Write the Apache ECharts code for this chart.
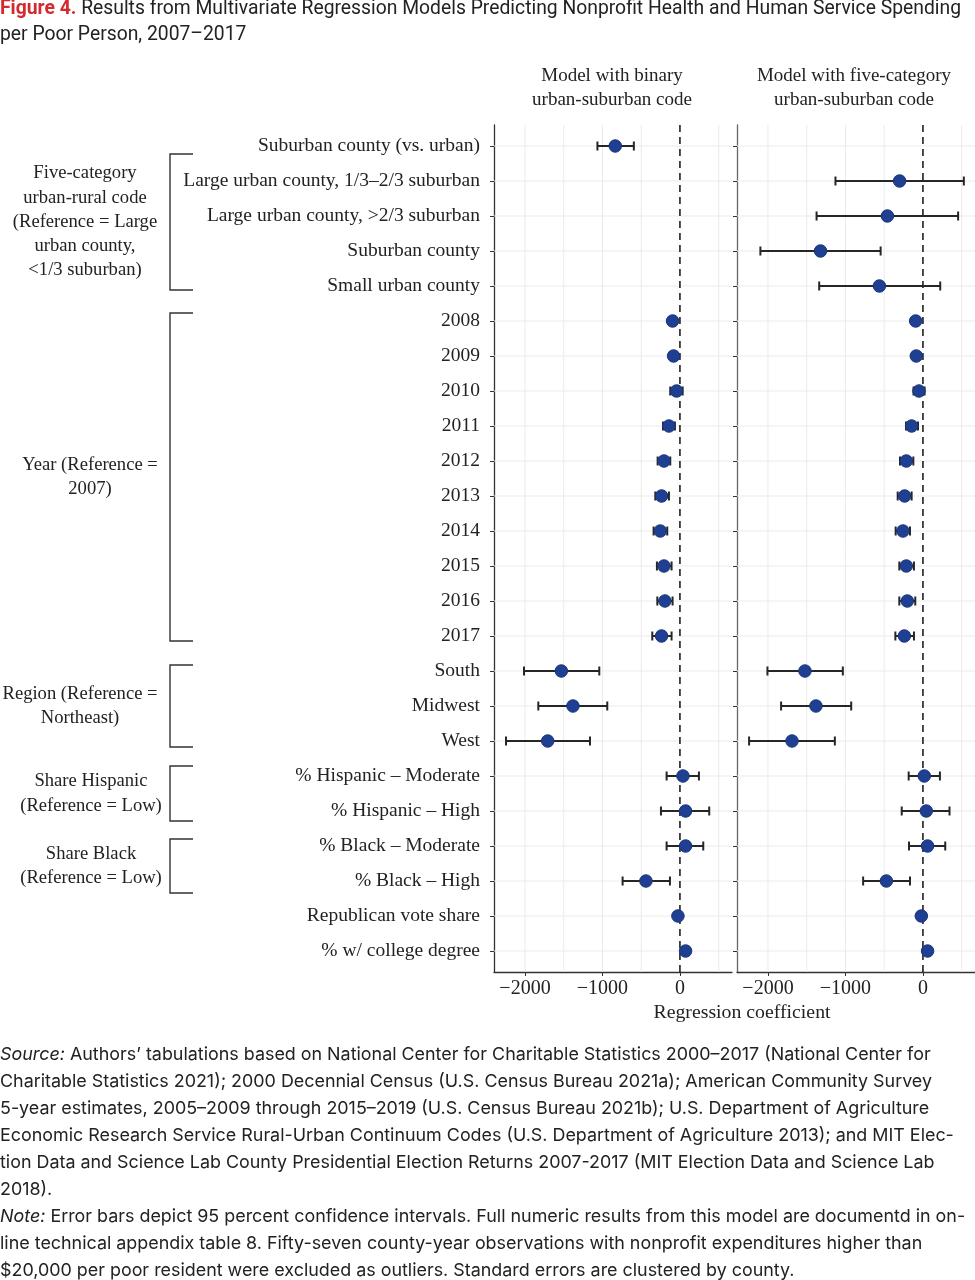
<!DOCTYPE html>
<html>
<head>
<meta charset="utf-8">
<script src="https://cdn.jsdelivr.net/npm/echarts@6.0.0/dist/echarts.min.js"></script>
<style>
html,body{margin:0;padding:0;background:#fff;}
#chart{width:975px;height:1280px;}
</style>
</head>
<body>
<div id="chart"></div>
<script>
// ---------- data ----------
const rowLabels = [
  'Suburban county (vs. urban)',
  'Large urban county, 1/3\u20132/3 suburban',
  'Large urban county, >2/3 suburban',
  'Suburban county',
  'Small urban county',
  '2008','2009','2010','2011','2012','2013','2014','2015','2016','2017',
  'South','Midwest','West',
  '% Hispanic \u2013 Moderate','% Hispanic \u2013 High',
  '% Black \u2013 Moderate','% Black \u2013 High',
  'Republican vote share','% w/ college degree'
];
// Model with binary urban-suburban code
const binaryEst = [-835, null, null, null, null, -95, -82, -43, -142, -206, -237, -254, -206, -194, -237, -1531, -1381, -1707, 39, 73, 73, -439, -26, 73];
const binaryLo  = [-1065, null, null, null, null, null, null, -125, -219, -288, -318, -340, -297, -292, -357, -2013, -1828, -2245, -172, -245, -172, -740, null, null];
const binaryHi  = [-595, null, null, null, null, null, null, 35, -65, -125, -142, -164, -108, -95, -108, -1041, -938, -1161, 245, 378, 301, -129, null, null];
// Model with five-category urban-suburban code
const fiveEst = [null, -301, -459, -1322, -562, -94, -86, -51, -146, -215, -236, -258, -215, -202, -240, -1523, -1381, -1690, 17, 43, 60, -472, -21, 60];
const fiveLo  = [null, -1129, -1373, -2098, -1339, null, null, -121, -219, -296, -326, -352, -305, -305, -356, -2007, -1831, -2244, -184, -274, -180, -772, null, null];
const fiveHi  = [null, 528, 454, -546, 223, null, null, 21, -64, -124, -146, -167, -116, -99, -116, -1034, -926, -1137, 219, 343, 288, -167, null, null];

const xTickValues = [-2000, -1000, 0];
const xGridValues = [-2000, -1500, -1000, -500, 500];
const panelTitles = ['Model with binary\nurban-suburban code', 'Model with five-category\nurban-suburban code'];
const groups = [
  {label: 'Five-category\nurban-rural code\n(Reference = Large\nurban county,\n<1/3 suburban)', from: 1, to: 4},
  {label: 'Year (Reference =\n2007)', from: 5, to: 14},
  {label: 'Region (Reference =\nNortheast)', from: 15, to: 17},
  {label: 'Share Hispanic\n(Reference = Low)', from: 18, to: 19},
  {label: 'Share Black\n(Reference = Low)', from: 20, to: 21}
];

// ---------- styling ----------
const SERIF = '"Liberation Serif", "DejaVu Serif", serif';
const SANS = 'Inter, "Noto Sans", sans-serif';
const TITLE_FONT = 'Roboto, "Noto Sans", sans-serif';
const POINT = '#1f3f92';
const X_MIN = -2400, X_MAX = 672;
const rowIdx = rowLabels.map((_, i) => i);

function fmtX(v) { return v < 0 ? '\u2212' + Math.abs(v) : String(v); }
function pts(est) { return est.map((v, i) => v == null ? null : [v, i]).filter(d => d); }
function bars(lo, hi) { return lo.map((v, i) => (v == null || hi[i] == null) ? null : [v, hi[i], i]).filter(d => d); }

function errRender(params, api) {
  const a = api.coord([api.value(0), api.value(2)]);
  const b = api.coord([api.value(1), api.value(2)]);
  const h = 4.5;
  const st = {stroke: '#262626', lineWidth: 2};
  return {type: 'group', children: [
    {type: 'line', shape: {x1: a[0], y1: a[1], x2: b[0], y2: b[1]}, style: st},
    {type: 'line', shape: {x1: a[0], y1: a[1] - h, x2: a[0], y2: a[1] + h}, style: st},
    {type: 'line', shape: {x1: b[0], y1: b[1] - h, x2: b[0], y2: b[1] + h}, style: st}
  ]};
}
// gridlines drawn through the axes (vertical at xGridValues, horizontal at every row)
function gridRender(params, api) {
  const cs = params.coordSys;
  const ch = [];
  const st = {stroke: '#ebebeb', lineWidth: 1};
  xGridValues.forEach(v => {
    const p = api.coord([v, 0]);
    ch.push({type: 'line', shape: {x1: p[0], y1: cs.y, x2: p[0], y2: cs.y + cs.height}, style: st});
  });
  rowIdx.forEach(i => {
    const p = api.coord([0, i]);
    ch.push({type: 'line', shape: {x1: cs.x, y1: p[1], x2: cs.x + cs.width, y2: p[1]}, style: st});
  });
  const z = api.coord([0, 0]);
  ch.push({type: 'line', shape: {x1: z[0], y1: cs.y, x2: z[0], y2: cs.y + cs.height},
    style: {stroke: '#111', lineWidth: 1.5, lineDash: [7, 5]}, z2: 5});
  return {type: 'group', children: ch};
}

function xAxis(gi) {
  return {
    type: 'value', gridIndex: gi, min: X_MIN, max: X_MAX,
    splitLine: {show: false},
    axisLine: {show: true, onZero: false, lineStyle: {color: '#333', width: 1.3}},
    axisTick: {show: true, customValues: xTickValues, length: 4, lineStyle: {color: '#333'}},
    axisLabel: {customValues: xTickValues, formatter: fmtX, fontFamily: SERIF, fontSize: 20, color: '#222', margin: 7}
  };
}
function yAxis(gi, showLabels) {
  return {
    type: 'value', gridIndex: gi, min: -0.6, max: rowLabels.length - 0.4, inverse: true,
    splitLine: {show: false},
    axisLine: {show: true, onZero: false, lineStyle: {color: gi === 0 ? '#333' : '#666', width: 1.3}},
    axisTick: {show: true, customValues: rowIdx, length: 4, lineStyle: {color: '#333'}},
    axisLabel: {show: showLabels, customValues: rowIdx, formatter: v => rowLabels[v] || '',
      fontFamily: SERIF, fontSize: 19.5, color: '#222', margin: 14}
  };
}
function bgSeries(gi) {
  return {type: 'custom', xAxisIndex: gi, yAxisIndex: gi, renderItem: gridRender,
    data: [[0, 0]], encode: {x: 0, y: 1}, silent: true, z: 1, animation: false, clip: false};
}
function errSeries(gi, lo, hi) {
  return {type: 'custom', xAxisIndex: gi, yAxisIndex: gi, renderItem: errRender,
    encode: {x: [0, 1], y: 2}, data: bars(lo, hi), z: 3, animation: false};
}
function ptSeries(gi, est) {
  return {type: 'scatter', xAxisIndex: gi, yAxisIndex: gi, data: pts(est), symbolSize: 12.5, z: 4,
    itemStyle: {color: POINT, borderColor: '#193477', borderWidth: 1, opacity: 1}, animation: false};
}

const chart = echarts.init(document.getElementById('chart'), null, {renderer: 'canvas'});
chart.setOption({
  backgroundColor: '#fff',
  animation: false,
  grid: [
    {left: 494, right: 243, top: 125, bottom: 308},
    {left: 737, right: 0, top: 125, bottom: 308}
  ],
  xAxis: [xAxis(0), xAxis(1)],
  yAxis: [yAxis(0, true), yAxis(1, false)],
  series: [
    bgSeries(0), bgSeries(1),
    errSeries(0, binaryLo, binaryHi), errSeries(1, fiveLo, fiveHi),
    ptSeries(0, binaryEst), ptSeries(1, fiveEst)
  ]
});

// ---------- annotations ----------
const g = [];
// figure title (condensed look via horizontal scaling)
const titleLine1Red = 'Figure 4.';
const titleLine1 = ' Results from Multivariate Regression Models Predicting Nonprofit Health and Human Service Spending';
const titleLine2 = 'per Poor Person, 2007\u20132017';
const TS = 21;
const ctx = document.createElement('canvas').getContext('2d');
ctx.font = 'bold ' + TS + 'px ' + TITLE_FONT;
const wRed = ctx.measureText(titleLine1Red).width;
ctx.font = TS + 'px ' + TITLE_FONT;
const wRest = ctx.measureText(titleLine1).width;
const sx = 961 / (wRed + wRest);
g.push({type: 'text', x: 0, y: -4, scaleX: sx, style: {
  text: '{r|' + titleLine1Red + '}' + titleLine1 + '\n' + titleLine2,
  fontFamily: TITLE_FONT, fontSize: TS, lineHeight: 26, fill: '#222',
  rich: {r: {fontFamily: TITLE_FONT, fontSize: TS, fontWeight: 'bold', fill: '#d42a2f'}}
}});
// panel headers
[[612, panelTitles[0]], [854, panelTitles[1]]].forEach(([x, t]) => {
  g.push({type: 'text', x: x, y: 88, style: {text: t, fontFamily: SERIF, fontSize: 19, lineHeight: 24,
    fill: '#222', textAlign: 'center', textVerticalAlign: 'middle'}});
});
// x axis title
g.push({type: 'text', x: 742, y: 1013, style: {text: 'Regression coefficient', fontFamily: SERIF, fontSize: 19.8,
  fill: '#222', textAlign: 'center', textVerticalAlign: 'middle'}});
// brackets + group labels
const yPix = i => chart.convertToPixel({yAxisIndex: 0}, i);
const bracketPad = [[-27, 4], [-8, 5], [-6, 6], [-10, 10], [-7, 12]];
const labelX = [85, 90, 80, 91, 91];
groups.forEach((gr, k) => {
  const top = yPix(gr.from) + bracketPad[k][0];
  const bot = yPix(gr.to) + bracketPad[k][1];
  g.push({type: 'polyline', shape: {points: [[193, top], [170, top], [170, bot], [193, bot]]},
    style: {stroke: '#333', lineWidth: 1.4, fill: null}});
  g.push({type: 'text', x: labelX[k], y: (top + bot) / 2, style: {text: gr.label, fontFamily: SERIF, fontSize: 18.6,
    lineHeight: 24.3, fill: '#222', textAlign: 'center', textVerticalAlign: 'middle'}});
});
// footer
g.push({type: 'text', left: 0, top: 1041, style: {
  text: '{i|Source:} Authors\u2019 tabulations based on National Center for Charitable Statistics 2000\u20132017 (National Center for\n' +
    'Charitable Statistics 2021); 2000 Decennial Census (U.S. Census Bureau 2021a); American Community Survey\n' +
    '5-year estimates, 2005\u20132009 through 2015\u20132019 (U.S. Census Bureau 2021b); U.S. Department of Agriculture\n' +
    'Economic Research Service Rural-Urban Continuum Codes (U.S. Department of Agriculture 2013); and MIT Elec-\n' +
    'tion Data and Science Lab County Presidential Election Returns 2007-2017 (MIT Election Data and Science Lab\n' +
    '2018).\n' +
    '{i|Note:} Error bars depict 95 percent confidence intervals. Full numeric results from this model are documentd in on-\n' +
    'line technical appendix table 8. Fifty-seven county-year observations with nonprofit expenditures higher than\n' +
    '$20,000 per poor resident were excluded as outliers. Standard errors are clustered by county.',
  fontFamily: SANS, fontSize: 17.9, lineHeight: 27, fill: '#222',
  rich: {i: {fontFamily: SANS, fontSize: 17.9, fontStyle: 'italic', fill: '#222'}}
}});
chart.setOption({graphic: g});
</script>
</body>
</html>
